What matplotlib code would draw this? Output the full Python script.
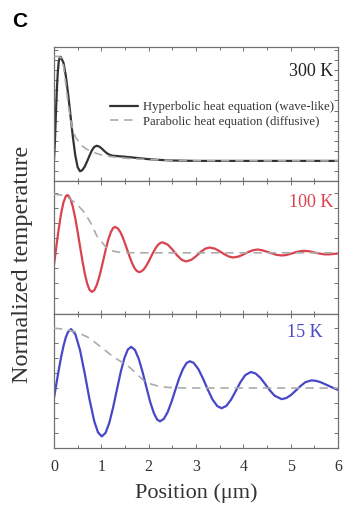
import matplotlib
matplotlib.use("Agg")
import matplotlib.pyplot as plt
from matplotlib.ticker import MultipleLocator, FixedLocator

# values (position in um, temperature normalised to each panel's height)
x_300 = [0.00, 0.02, 0.04, 0.06, 0.08, 0.10, 0.12, 0.14, 0.20, 0.25, 0.30, 0.35, 0.40,
         0.45, 0.50, 0.55, 0.60, 0.65, 0.70, 0.75, 0.80, 0.85, 0.90, 0.95, 1.00, 1.05,
         1.10, 1.15, 1.20, 1.25, 1.30, 1.40, 1.60, 1.80, 2.00, 2.20, 2.50, 3.00, 6.00]
hyp_300 = [0.16, 0.30, 0.50, 0.68, 0.81, 0.89, 0.92, 0.927, 0.883, 0.785, 0.645, 0.484, 0.325,
           0.19, 0.103, 0.072, 0.082, 0.108, 0.147, 0.189, 0.228, 0.254, 0.263, 0.258, 0.245, 0.228,
           0.212, 0.200, 0.192, 0.188, 0.187, 0.184, 0.178, 0.170, 0.163, 0.158, 0.153, 0.150, 0.150]
xp_300 = [0.00, 0.10, 0.15, 0.20, 0.25, 0.30, 0.37, 0.45, 0.51, 0.60, 0.70, 0.80, 0.90,
          1.00, 1.20, 1.50, 2.00, 2.50, 3.00, 6.00]
par_300 = [0.93, 0.93, 0.92, 0.86, 0.72, 0.57, 0.42, 0.33, 0.30, 0.26, 0.235, 0.22, 0.205,
           0.195, 0.182, 0.17, 0.16, 0.154, 0.151, 0.15]

x_100 = [0.00, 0.05, 0.10, 0.15, 0.20, 0.25, 0.28, 0.30, 0.35, 0.40, 0.45, 0.50, 0.55, 0.60,
         0.65, 0.70, 0.75, 0.80, 0.85, 0.90, 0.95, 1.00, 1.05, 1.10, 1.15, 1.20, 1.25, 1.29,
         1.35, 1.40, 1.45, 1.50, 1.55, 1.60, 1.65, 1.70, 1.75, 1.80, 1.85, 1.90, 1.95, 2.00,
         2.05, 2.10, 2.15, 2.20, 2.25, 2.29, 2.40, 2.50, 2.60, 2.70, 2.79, 2.90, 3.00, 3.10,
         3.20, 3.29, 3.40, 3.50, 3.60, 3.70, 3.79, 3.90, 4.00, 4.10, 4.20, 4.30, 4.40, 4.50,
         4.60, 4.70, 4.81, 4.90, 5.00, 5.10, 5.20, 5.28, 5.40, 5.50, 5.60, 5.70, 5.80, 5.90, 6.00]
hyp_100 = [0.37, 0.508, 0.641, 0.755, 0.839, 0.886, 0.894, 0.891, 0.862, 0.803, 0.719, 0.617,
           0.508, 0.401, 0.305, 0.230, 0.182, 0.166, 0.178, 0.215, 0.271, 0.341, 0.418, 0.495,
           0.563, 0.615, 0.647, 0.655, 0.643, 0.617, 0.579, 0.531, 0.480, 0.428, 0.382, 0.346,
           0.323, 0.315, 0.321, 0.337, 0.363, 0.395, 0.431, 0.466, 0.497, 0.521, 0.535, 0.539,
           0.523, 0.485, 0.441, 0.407, 0.395, 0.407, 0.434, 0.467, 0.492, 0.500, 0.491, 0.472,
           0.449, 0.431, 0.425, 0.432, 0.447, 0.465, 0.479, 0.485, 0.479, 0.468, 0.456, 0.445,
           0.440, 0.443, 0.452, 0.464, 0.472, 0.475, 0.471, 0.463, 0.455, 0.449, 0.448, 0.451, 0.455]
xp_100 = [0.00, 0.15, 0.30, 0.45, 0.55, 0.65, 0.80, 0.90, 0.97, 1.10, 1.22, 1.40, 1.70, 6.00]
par_100 = [0.90, 0.895, 0.875, 0.835, 0.80, 0.76, 0.67, 0.59, 0.56, 0.50, 0.475, 0.463, 0.46, 0.46]

x_15 = [0.00, 0.05, 0.10, 0.15, 0.20, 0.25, 0.30, 0.36, 0.45, 0.55, 0.65, 0.75, 0.85, 0.93,
        1.01, 1.09, 1.17, 1.25, 1.33, 1.41, 1.49, 1.56, 1.63, 1.71, 1.79, 1.87, 1.95, 2.03,
        2.11, 2.18, 2.24, 2.32, 2.40, 2.48, 2.56, 2.64, 2.72, 2.80, 2.87, 2.95, 3.05, 3.15,
        3.25, 3.35, 3.45, 3.54, 3.64, 3.74, 3.84, 3.94, 4.04, 4.16, 4.26, 4.36, 4.46, 4.56,
        4.66, 4.81, 4.91, 5.01, 5.11, 5.21, 5.31, 5.44, 5.54, 5.64, 5.74, 5.84, 5.94, 6.00]
hyp_15 = [0.372, 0.477, 0.580, 0.677, 0.760, 0.826, 0.868, 0.887, 0.850, 0.729, 0.553, 0.361,
          0.197, 0.113, 0.083, 0.110, 0.187, 0.302, 0.435, 0.566, 0.673, 0.734, 0.754, 0.731,
          0.664, 0.567, 0.454, 0.344, 0.257, 0.209, 0.196, 0.214, 0.264, 0.339, 0.427, 0.514,
          0.585, 0.633, 0.646, 0.634, 0.587, 0.515, 0.433, 0.359, 0.310, 0.294, 0.311, 0.358,
          0.423, 0.490, 0.542, 0.566, 0.554, 0.522, 0.476, 0.428, 0.388, 0.362, 0.371, 0.394,
          0.427, 0.461, 0.489, 0.503, 0.499, 0.488, 0.472, 0.456, 0.440, 0.433]
xp_15 = [0.00, 0.25, 0.50, 0.75, 1.00, 1.25, 1.50, 1.60, 1.75, 1.90, 2.05, 2.20, 2.40, 2.70, 6.00]
par_15 = [0.894, 0.885, 0.862, 0.82, 0.75, 0.68, 0.625, 0.60, 0.55, 0.50, 0.475, 0.46, 0.45,
          0.446, 0.445]

labels = ["300 K", "100 K", "15 K"]
colors = ["#333333", "#d9434f", "#4747c8"]
baselines = [0.15, 0.46, 0.445]
legend_labels = ["Hyperbolic heat equation (wave-like)", "Parabolic heat equation (diffusive)"]

SERIF = ["Liberation Serif", "DejaVu Serif"]
FRAME = "#707070"

fig = plt.figure(figsize=(3.44, 5.08), dpi=100)
left, width = 54 / 344, 284 / 344
panel_px = [(47, 181), (181, 314), (314, 447.5)]
series = [(x_300, hyp_300, xp_300, par_300),
          (x_100, hyp_100, xp_100, par_100),
          (x_15, hyp_15, xp_15, par_15)]

axes = []
for i, (top, bot) in enumerate(panel_px):
    ax = fig.add_axes([left, (508 - bot) / 508, width, (bot - top) / 508])
    xs, ys, xd, yd = series[i]
    ax.plot(xs, ys, color=colors[i], lw=1.6, solid_capstyle="round", zorder=2,
            label=legend_labels[0])
    ax.plot(xd, yd, color="#ababab", lw=1.2, dashes=(5, 3.5), zorder=3,
            label=legend_labels[1])
    ax.set_xlim(0, 6)
    ax.set_ylim(0, 1)

    ax.xaxis.set_major_locator(MultipleLocator(1))
    ax.xaxis.set_minor_locator(MultipleLocator(0.5))
    step = 0.0752 if i == 0 else 0.1125
    ticks = [baselines[i] + k * step for k in range(-12, 13)
             if 0.02 < baselines[i] + k * step < 0.98]
    ax.yaxis.set_major_locator(FixedLocator(ticks))
    ax.yaxis.set_ticklabels([])
    ax.tick_params(which="both", direction="in", top=True, right=True, color=FRAME,
                   width=0.7, labelsize=11.5, pad=8, labelcolor="#333333")
    ax.tick_params(which="major", length=3)
    ax.tick_params(which="minor", length=2)
    for sp in ax.spines.values():
        sp.set_color(FRAME)
        sp.set_linewidth(0.9)
    if i < 2:
        ax.tick_params(axis="x", labelbottom=False)
    else:
        for t in ax.get_xticklabels():
            t.set_family(SERIF)
    axes.append(ax)

# temperature tags
tag_pos = [(0.983, 0.82), (0.983, 0.84), (0.945, 0.86)]
for ax, lab, col, (tx, ty) in zip(axes, labels, colors, tag_pos):
    ax.text(tx, ty, lab, transform=ax.transAxes, ha="right", va="center",
            fontsize=13, family=SERIF, color=col if col != colors[0] else "#222222")

axes[0].legend(loc="center right", bbox_to_anchor=(0.985, 0.496), frameon=False,
               prop={"family": SERIF, "size": 9.2}, handlelength=2.2, handletextpad=0.4,
               labelspacing=0.2, borderpad=0, borderaxespad=0, labelcolor="#333333")

axes[2].set_xlabel("Position (\u03bcm)", family=SERIF, fontsize=16, color="#333333",
                   labelpad=6)
fig.text(0.064, 0.48, "Normalized temperature", rotation=90, ha="center", va="center",
         family=SERIF, fontsize=17.5, color="#333333")
fig.text(0.035, 0.957, "C", ha="left", va="center", fontsize=15, fontweight="bold",
         family=["Liberation Sans", "DejaVu Sans"])

fig.savefig("out.png", dpi=100)
